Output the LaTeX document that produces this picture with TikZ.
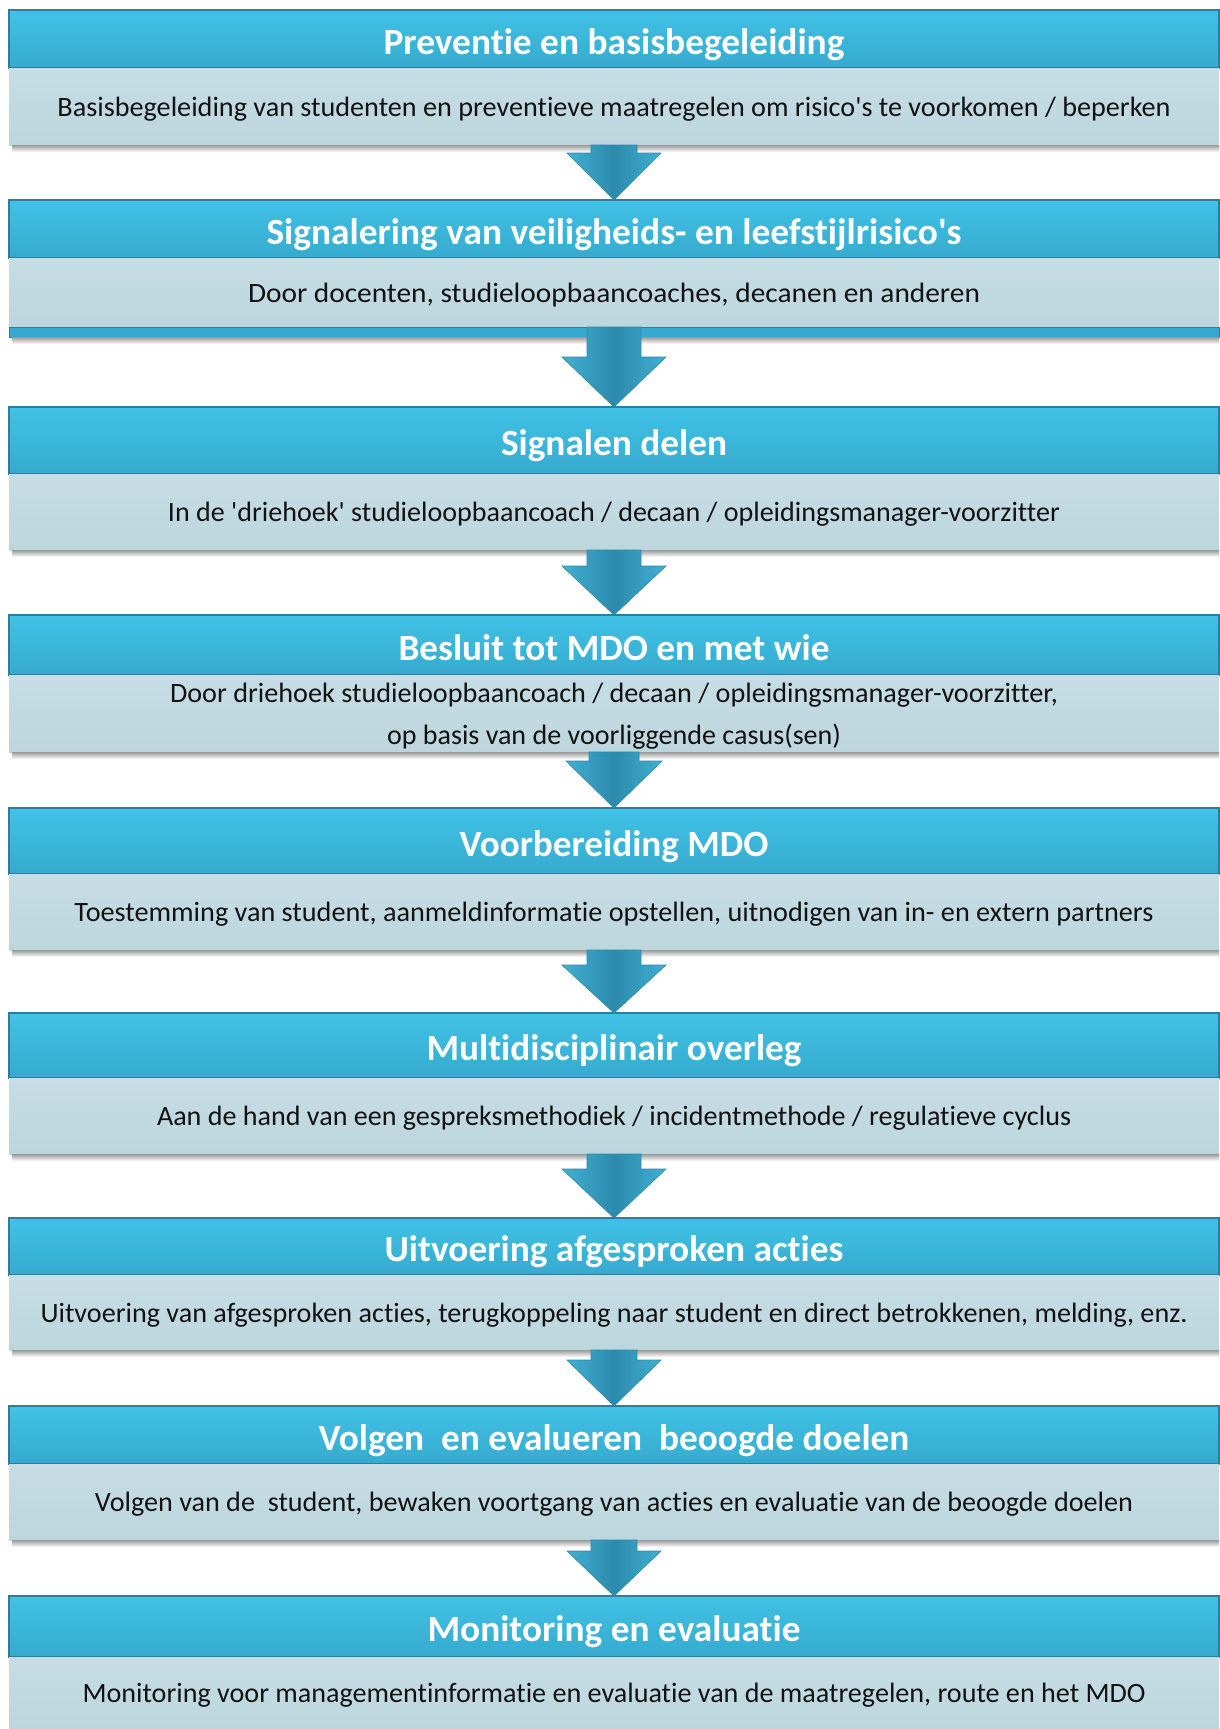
\documentclass[tikz,border=0pt]{standalone}
\usepackage{fontspec}
\setmainfont{Carlito}[Ligatures={TeX,NoCommon}]
\usepackage{graphicx}
\usetikzlibrary{calc}
\definecolor{hdrtop}{RGB}{64,194,230}
\definecolor{hdrbot}{RGB}{54,170,206}
\definecolor{hdredge}{RGB}{44,126,156}
\definecolor{bodytop}{RGB}{198,221,229}
\definecolor{bodybot}{RGB}{189,213,221}
\definecolor{arrowlight}{RGB}{66,176,210}
\definecolor{arrowdark}{RGB}{44,138,172}
\definecolor{txt}{RGB}{18,18,18}

\newcommand\fitw[2]{\sbox0{#2}\pgfmathsetmacro\fwratio{#1/\the\wd0}\scalebox{\fwratio}[1]{\usebox0}}

\newcommand\blockarrow[5]{%
\shade[left color=arrowlight, right color=arrowlight, middle color=arrowdark, draw=arrowdark, line width=0.6pt]
 let \p1=(#1.south), \p2=(#2.north) in
 (\x1-#4pt,\y1) -- (\x1+#4pt,\y1) -- (\x1+#4pt,\y2+#5pt) -- (\x1+#3pt,\y2+#5pt) -- (\x1,\y2)
 -- (\x1-#3pt,\y2+#5pt) -- (\x1-#4pt,\y2+#5pt) -- cycle;}

\newcommand\bodyshadow[1]{%
\shade[top color=black!40, bottom color=white] ([xshift=3pt]#1.south west) rectangle ([yshift=-7pt]#1.south east);}

\tikzset{
  hdr/.style={anchor=north west, minimum width=1210pt, inner sep=0pt, outer sep=0pt,
    top color=hdrtop, bottom color=hdrbot, draw=hdredge, line width=1.2pt,
    text=white, font=\fontsize{37}{40}\selectfont\bfseries, text height=30pt, text depth=0pt},
  bodybox/.style={anchor=north west, minimum width=1210pt, inner sep=0pt, outer sep=0pt,
    top color=bodytop, bottom color=bodybot, text=txt, align=center,
    font=\fontsize{28}{42}\selectfont, text height=21pt, text depth=2pt},
  bandbox/.style={anchor=north west, minimum width=1210pt, minimum height=10pt, inner sep=0pt,
    outer sep=0pt, fill=hdrbot, draw=hdredge, line width=0.8pt}
}

\begin{document}
\begin{tikzpicture}[x=1pt, y=-1pt]
\useasboundingbox (0,0) rectangle (1220,1729);
\fill[white] (0,0) rectangle (1220,1729);

% Block 1
\node[hdr, minimum height=58pt] (h1) at (9,10) {\fitw{461}{Preventie en basisbegeleiding}};
\node[bodybox, minimum height=77pt] (b1) at (9,68) {\fitw{1113}{Basisbegeleiding van studenten en preventieve maatregelen om risico\textquotesingle s te voorkomen / beperken}};
% Block 2
\node[hdr, minimum height=58pt] (h2) at (9,200) {\fitw{695}{Signalering van veiligheids- en leefstijlrisico\textquotesingle s}};
\node[bodybox, minimum height=69pt] (b2) at (9,258) {\fitw{732}{Door docenten, studieloopbaancoaches, decanen en anderen}};
\node[bandbox] (band2) at (9,327) {};
% Block 3
\node[hdr, minimum height=67pt] (h3) at (9,407) {\fitw{226}{Signalen delen}};
\node[bodybox, minimum height=76pt] (b3) at (9,474) {\fitw{892}{In de \textquotesingle driehoek\textquotesingle{} studieloopbaancoach / decaan / opleidingsmanager-voorzitter}};
% Block 4
\node[hdr, minimum height=60pt] (h4) at (9,615) {\fitw{431}{Besluit tot MDO en met wie}};
\node[bodybox, minimum height=77pt, text height=63pt, text depth=2pt] (b4) at (9,675) {\fitw{888}{Door driehoek studieloopbaancoach / decaan / opleidingsmanager-voorzitter,}\\\fitw{454}{op basis van de voorliggende casus(sen)}};
% Block 5
\node[hdr, minimum height=66pt] (h5) at (9,808) {\fitw{309}{Voorbereiding MDO}};
\node[bodybox, minimum height=76pt] (b5) at (9,874) {\fitw{1079}{Toestemming van student, aanmeldinformatie opstellen, uitnodigen van in- en extern partners}};
% Block 6
\node[hdr, minimum height=65pt] (h6) at (9,1013) {\fitw{375}{Multidisciplinair overleg}};
\node[bodybox, minimum height=76pt] (b6) at (9,1078) {\fitw{914}{Aan de hand van een gespreksmethodiek / incidentmethode / regulatieve cyclus}};
% Block 7
\node[hdr, minimum height=57pt] (h7) at (9,1218) {\fitw{459}{Uitvoering afgesproken acties}};
\node[bodybox, minimum height=75pt] (b7) at (9,1275) {\fitw{1147}{Uitvoering van afgesproken acties, terugkoppeling naar student en direct betrokkenen, melding, enz.}};
% Block 8
\node[hdr, minimum height=58pt] (h8) at (9,1406) {\fitw{591}{Volgen\ \ en evalueren\ \ beoogde doelen}};
\node[bodybox, minimum height=76pt] (b8) at (9,1464) {\fitw{1038}{Volgen van de\ \ student, bewaken voortgang van acties en evaluatie van de beoogde doelen}};
% Block 9
\node[hdr, minimum height=61pt] (h9) at (9,1596) {\fitw{373}{Monitoring en evaluatie}};
\node[bodybox, minimum height=72pt] (b9) at (9,1657) {\fitw{1063}{Monitoring voor managementinformatie en evaluatie van de maatregelen, route en het MDO}};

% shadows
\bodyshadow{b1}
\bodyshadow{band2}
\bodyshadow{b3}
\bodyshadow{b4}
\bodyshadow{b5}
\bodyshadow{b6}
\bodyshadow{b7}
\bodyshadow{b8}

% arrows
\blockarrow{b1}{h2}{47}{23}{47}
\blockarrow{b2}{h3}{52}{27}{50}
\blockarrow{b3}{h4}{52}{27}{49}
\blockarrow{b4}{h5}{48}{25}{47}
\blockarrow{b5}{h6}{52}{27}{48}
\blockarrow{b6}{h7}{52}{27}{49}
\blockarrow{b7}{h8}{47}{23}{46}
\blockarrow{b8}{h9}{47}{23}{45}
\end{tikzpicture}
\end{document}
